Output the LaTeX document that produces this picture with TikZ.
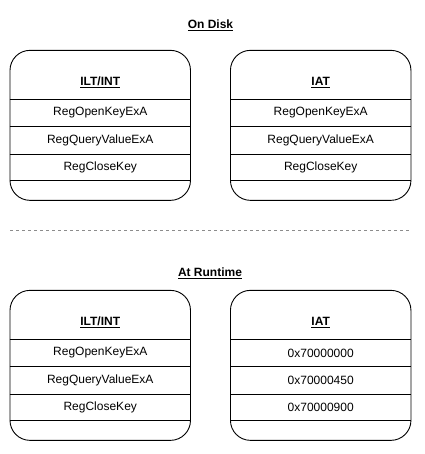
\documentclass[tikz,border=0pt]{standalone}
\usepackage{fontspec}
\setmainfont{Liberation Sans}
\begin{document}
\begin{tikzpicture}[x=1pt,y=-1pt,
  tbl/.style={draw=black,line width=0.9pt,rounded corners=20pt,minimum width=180.5pt,minimum height=150pt,inner sep=0pt},
  sep/.style={draw=black,line width=0.9pt},
  txt/.style={font=\fontsize{12}{14}\selectfont,inner sep=0pt,anchor=center},
  hdr/.style={txt,font=\fontsize{12}{14}\selectfont\bfseries},
  divider/.style={draw=black!45,line width=0.9pt,dash pattern=on 3pt off 3pt}]
\useasboundingbox (0,0) rectangle (424,454);
% titles
\node[hdr] (ondisk) at (210.5,25) {\underline{On Disk}};
\node[hdr] (atrun) at (210,273) {\underline{At Runtime}};
% divider
\coordinate (dl) at (10,230.7);
\coordinate (dr) at (410,230.7);
\draw[divider] (dl) -- (dr);
% boxes
\node[tbl] (b1) at (100.25,125.35) {};
\node[tbl] (b2) at (320.7,125.35) {};
\node[tbl] (b3) at (100.25,365.35) {};
\node[tbl] (b4) at (320.7,365.35) {};
\foreach \b/\o in {b1/0,b2/0,b3/240,b4/240}{
  \foreach \yy in {99.3,126.7,154,180.7}{
    \draw[sep] (\b.west |- 0,\yy+\o) -- (\b.east |- 0,\yy+\o);
  }
}
% headers
\node[hdr] (h1) at (100.25,82.5) {\underline{ILT/INT}};
\node[hdr] (h2) at (320.7,82.5) {\underline{IAT}};
\node[hdr] (h3) at (100.25,322.5) {\underline{ILT/INT}};
\node[hdr] (h4) at (320.7,322.5) {\underline{IAT}};
% rows
\node[txt] (r11) at (100.25,113) {RegOpenKeyExA};
\node[txt] (r12) at (100.25,140.3) {RegQueryValueExA};
\node[txt] (r13) at (100.25,167.3) {RegCloseKey};
\node[txt] (r21) at (320.7,113) {RegOpenKeyExA};
\node[txt] (r22) at (320.7,140.3) {RegQueryValueExA};
\node[txt] (r23) at (320.7,167.3) {RegCloseKey};
\node[txt] (r31) at (100.25,353) {RegOpenKeyExA};
\node[txt] (r32) at (100.25,380.3) {RegQueryValueExA};
\node[txt] (r33) at (100.25,407.3) {RegCloseKey};
\node[txt] (r41) at (320.7,353) {0x70000000};
\node[txt] (r42) at (320.7,380.3) {0x70000450};
\node[txt] (r43) at (320.7,407.3) {0x70000900};
\end{tikzpicture}
\end{document}
